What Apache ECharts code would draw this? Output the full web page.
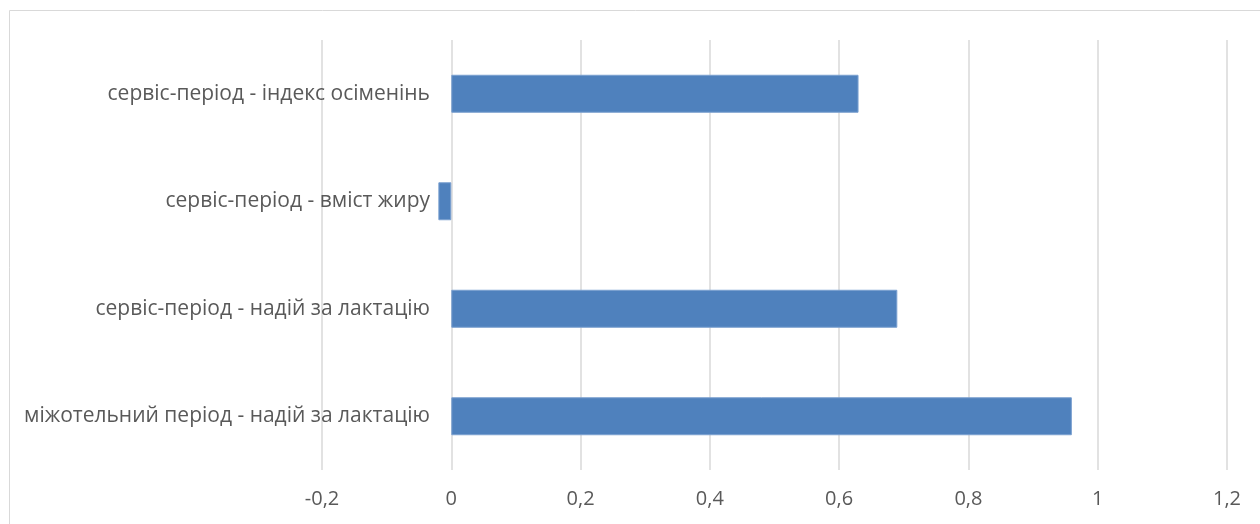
<!DOCTYPE html>
<html>
<head>
<meta charset="utf-8">
<script src="https://cdn.jsdelivr.net/npm/echarts@6/dist/echarts.min.js"></script>
<style>
html,body{margin:0;padding:0;background:#fff;}
#chart{width:1260px;height:524px;}
</style>
</head>
<body>
<div id="chart"></div>
<script>
const categories = [
  'міжотельний період - надій за лактацію',
  'сервіс-період - надій за лактацію',
  'сервіс-період - вміст жиру',
  'сервіс-період - індекс осіменінь'
];
const values = [0.96, 0.69, -0.02, 0.63];
const xMin = -0.2, xMax = 1.2, xStep = 0.2;

const chart = echarts.init(document.getElementById('chart'), null, {renderer: 'canvas'});
const font = '"Open Sans", "Liberation Sans", sans-serif';
chart.setOption({
  animation: false,
  graphic: [{
    type: 'rect',
    shape: {x: 9.5, y: 10.5, width: 1300, height: 600},
    style: {fill: 'none', stroke: '#d9d9d9', lineWidth: 1},
    silent: true
  }],
  grid: {left: 322, right: 33, top: 40, height: 430, containLabel: false},
  xAxis: {
    type: 'value', min: xMin, max: xMax, interval: xStep,
    axisLine: {show: false}, axisTick: {show: false},
    splitLine: {show: true, lineStyle: {color: '#d9d9d9', width: 1.5}},
    axisLabel: {
      color: '#595959', fontSize: 20, fontFamily: font, margin: 19,
      formatter: v => String(Math.round(v * 10) / 10).replace('.', ',')
    }
  },
  yAxis: {
    type: 'category', data: categories,
    axisLine: {show: false}, axisTick: {show: false},
    axisLabel: {color: '#595959', fontSize: 21, fontFamily: font, margin: -108}
  },
  series: [{
    type: 'bar', data: values, barWidth: 38,
    itemStyle: {color: '#4F81BD', borderColor: '#7BA0D0', borderWidth: 1}
  }]
});
</script>
</body>
</html>
